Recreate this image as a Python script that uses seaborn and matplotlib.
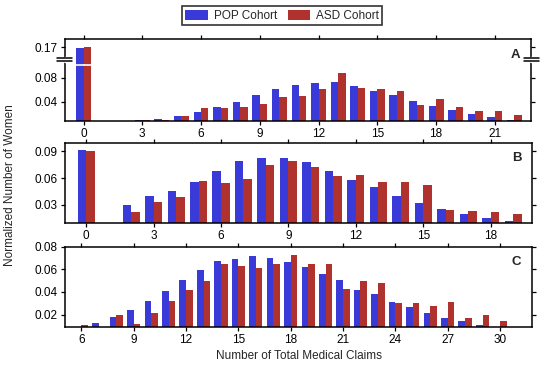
import numpy as np
import pandas as pd
import seaborn as sns
import matplotlib
matplotlib.use('Agg')
import matplotlib.pyplot as plt
from matplotlib.patches import Patch

# Panel A
a_claims = [0, 3, 4, 5, 6, 7, 8, 9, 10, 11, 12, 13, 14, 15, 16, 17, 18, 19, 20, 21, 22]
a_pop = [0.165, 0.0095, 0.012, 0.0167, 0.023, 0.032, 0.0405, 0.051, 0.062, 0.068, 0.072,
         0.073, 0.067, 0.058, 0.052, 0.042, 0.033, 0.027, 0.019, 0.015, 0.010]
a_asd = [0.171, 0.0095, 0.0095, 0.016, 0.0305, 0.0305, 0.032, 0.037, 0.048, 0.049, 0.061,
         0.088, 0.063, 0.0605, 0.058, 0.0355, 0.044, 0.032, 0.024, 0.025, 0.018]

# Panel B
b_claims = [0, 2, 3, 4, 5, 6, 7, 8, 9, 10, 11, 12, 13, 14, 15, 16, 17, 18, 19]
b_pop = [0.0919, 0.030, 0.0394, 0.0454, 0.0559, 0.0675, 0.0795, 0.0829, 0.0829, 0.078,
         0.0679, 0.0574, 0.0495, 0.0398, 0.0319, 0.0251, 0.0191, 0.015, 0.0116]
b_asd = [0.0908, 0.0218, 0.0326, 0.039, 0.0563, 0.054, 0.0593, 0.0746, 0.0795, 0.0728,
         0.0619, 0.0634, 0.0555, 0.0555, 0.0518, 0.024, 0.0233, 0.0218, 0.0199]

# Panel C
c_claims = list(range(6, 32))
c_pop = [0.008, 0.0124, 0.0176, 0.0238, 0.032, 0.0412, 0.0506, 0.0597, 0.067, 0.0691,
         0.072, 0.0697, 0.0662, 0.0618, 0.0556, 0.0506, 0.042, 0.0379, 0.0315, 0.0265,
         0.0215, 0.0171, 0.0144, 0.0106, 0.008, 0.0094]
c_asd = [0.0109, 0.008, 0.0197, 0.0118, 0.0215, 0.0318, 0.042, 0.0497, 0.0644, 0.0632,
         0.0609, 0.065, 0.0729, 0.0647, 0.0644, 0.0429, 0.05, 0.0476, 0.0303, 0.0303,
         0.0276, 0.0315, 0.0168, 0.02, 0.0144, 0.0094]

cohorts = ['POP Cohort', 'ASD Cohort']
colors = {'POP Cohort': '#3a3ad8', 'ASD Cohort': '#b0322e'}

sns.set_style('ticks')
plt.rcParams['font.family'] = ['Liberation Sans', 'DejaVu Sans']

fig = plt.figure(figsize=(5.5, 3.7), dpi=100)

panels = [
    ('A', a_claims, a_pop, a_asd, [0.118, 0.674, 0.848, 0.220], range(0, 22, 3), (0.0088, 0.207)),
    ('B', b_claims, b_pop, b_asd, [0.118, 0.3965, 0.850, 0.218], range(0, 19, 3), (0.009, 0.100)),
    ('C', c_claims, c_pop, c_asd, [0.118, 0.1154, 0.850, 0.218], range(6, 31, 3), (0.0088, 0.080)),
]

# broken axis for panel A
brk, k = 0.11, 0.35


def fwd(y):
    y = np.asarray(y, dtype=float)
    return np.where(y <= brk, y, brk + (y - brk) * k)


def inv(y):
    y = np.asarray(y, dtype=float)
    return np.where(y <= brk, y, brk + (y - brk) / k)


fs = 8.5

for name, claims, pop, asd, rect, xt, ylim in panels:
    ax = fig.add_axes(rect)
    df = pd.DataFrame({
        'claims': claims * 2,
        'value': pop + asd,
        'cohort': [cohorts[0]] * len(claims) + [cohorts[1]] * len(claims),
    })
    sns.barplot(data=df, x='claims', y='value', hue='cohort', hue_order=cohorts,
                palette=colors, native_scale=True, width=0.76, saturation=1,
                errorbar=None, legend=False, ax=ax, linewidth=0)
    ax.set_xlim(min(claims) - 0.95, max(claims) + 0.86)
    ax.set_xticks(list(xt))
    ax.set_xticklabels([str(v) for v in xt])
    if name == 'A':
        ax.set_yscale('function', functions=(fwd, inv))
        ax.set_ylim(*ylim)
        ax.set_yticks([0.04, 0.08, 0.17])
        ax.set_yticklabels(['0.04', '0.08', '0.17'])
        # white gap across the tall bars
        for p in ax.patches:
            if p.get_height() > brk:
                ax.plot([p.get_x(), p.get_x() + p.get_width()], [0.101, 0.101],
                        color='white', lw=1.2, zorder=5)
        # break marks on both spines
        f0, f1 = fwd(ylim[0]), fwd(ylim[1])
        yb = float((fwd(brk) - f0) / (f1 - f0))
        for xs in (0.0, 1.0):
            ax.plot([xs, xs], [yb - 0.018, yb + 0.018], color='white', lw=2.5,
                    transform=ax.transAxes, clip_on=False, zorder=6)
            for dy in (-0.02, 0.02):
                ax.plot([xs - 0.016, xs + 0.016], [yb + dy, yb + dy], color='black',
                        lw=1.1, transform=ax.transAxes, clip_on=False, zorder=7)
    else:
        ax.set_ylim(*ylim)
        if name == 'B':
            ax.set_yticks([0.03, 0.06, 0.09])
            ax.set_yticklabels(['0.03', '0.06', '0.09'])
        else:
            ax.set_yticks([0.02, 0.04, 0.06, 0.08])
            ax.set_yticklabels(['0.02', '0.04', '0.06', '0.08'])
    ax.set_xlabel('')
    ax.set_ylabel('')
    for s in ax.spines.values():
        s.set_visible(True)
        s.set_linewidth(1.1)
        s.set_color('black')
    ax.tick_params(direction='out', length=3, width=0.9, top=True, right=True,
                   labelsize=fs, pad=2, colors='black')
    ax.text(0.966, 0.81, name, transform=ax.transAxes, fontsize=9.5, fontweight='bold',
            ha='center', va='center')
    if name == 'C':
        ax.set_xlabel('Number of Total Medical Claims', fontsize=fs, labelpad=3)

fig.text(0.019, 0.5, 'Normalized Number of Women', rotation=90, fontsize=fs,
         ha='center', va='center')

handles = [Patch(facecolor=colors[c], edgecolor='none', label=c) for c in cohorts]
leg = fig.legend(handles=handles, loc='center', bbox_to_anchor=(0.513, 0.957), ncol=2,
                 fontsize=fs, frameon=True, fancybox=False, handlelength=1.9,
                 handleheight=0.9, handletextpad=0.5, columnspacing=0.9,
                 borderpad=0.3, borderaxespad=0)
leg.get_frame().set_edgecolor('black')
leg.get_frame().set_linewidth(1.2)

fig.savefig('out.png', dpi=100)
